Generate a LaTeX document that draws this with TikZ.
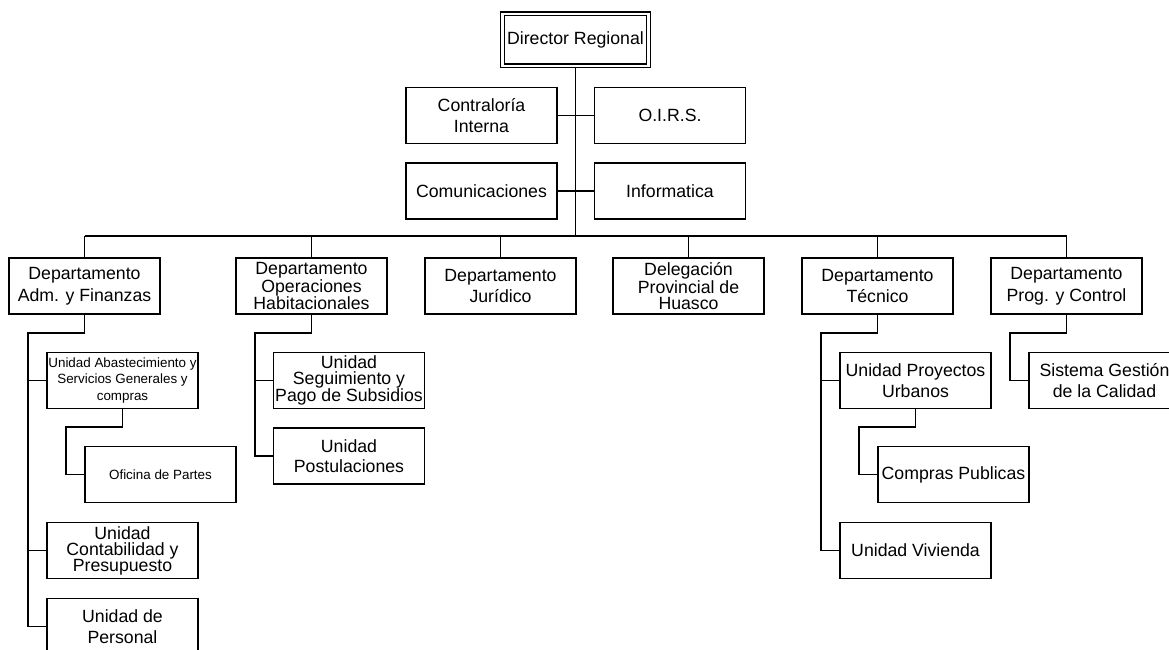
\documentclass[tikz,border=0pt]{standalone}
\usepackage{fontspec}
\setmainfont{Liberation Sans}
\usetikzlibrary{calc}

\begin{document}
\begin{tikzpicture}[x=1pt, y=-1pt, line width=1.7pt,
        box/.style={draw, minimum width=151, minimum height=56, inner sep=0, align=center, font=\fontsize{17.7}{21.5}\selectfont},
        tight/.style={box, font=\fontsize{17.7}{16}\selectfont},
        small/.style={box, font=\fontsize{13.4}{16.5}\selectfont}]
        \useasboundingbox (0, 0) rectangle (1169, 650);
        \fill[white] (0, 0) rectangle (1169, 650);
        \node[box, double, line width=1.4pt, double distance=2.2pt, minimum width=146, minimum height=52] (dir) at (575.5, 40) {Director Regional};
        \node[box] (contra) at (481.5, 115.5) {Contraloría\\Interna};
        \node[box] (oirs) at (670, 115.5) {O.I.R.S.};
        \node[box] (comu) at (481.5, 191) {Comunicaciones};
        \node[box] (info) at (670, 191) {Informatica};
        \coordinate (bus) at (575.5, 236);
        \node[box] (dadm) at (84.5, 286) {Departamento\\Adm. y Finanzas};
        \node[tight] (doper) at (311.5, 286) {Departamento\\Operaciones\\Habitacionales};
        \node[box] (djur) at (500.5, 286) {Departamento\\Jurídico};
        \node[tight] (dhua) at (688.5, 286) {Delegación\\Provincial de\\Huasco};
        \node[box] (dtec) at (877.5, 286) {Departamento\\Técnico};
        \node[box] (dprog) at (1066.5, 286) {Departamento\\Prog. y Control};
        \node[small] (uabas) at (122.5, 380.5) {Unidad Abastecimiento y\\Servicios Generales y\\compras};
        \node[small] (opart) at (160.5, 474.5) {Oficina de Partes};
        \node[tight] (ucont) at (122.5, 550.5) {Unidad\\Contabilidad y\\Presupuesto};
        \node[box] (upers) at (122.5, 626.5) {Unidad de\\Personal};
        \node[tight] (useg) at (349, 380.5) {Unidad\\Seguimiento y\\Pago de Subsidios};
        \node[box, font=\fontsize{17.7}{20}\selectfont] (upost) at (349, 456) {Unidad\\Postulaciones};
        \node[box] (uproy) at (915.5, 380.5) {Unidad Proyectos\\Urbanos};
        \node[box] (ucomp) at (953.5, 474.5) {Compras Publicas};
        \node[box] (uviv) at (915.5, 550.5) {Unidad Vivienda};
        \node[box] (ssgc) at (1104.5, 380.5) {Sistema Gestión\\de la Calidad};
        \draw (dir.south) -- (bus);
        \draw (contra.east) -- (oirs.west);
        \draw (comu.east) -- (info.west);
        \draw (dadm.north |- bus) -- (dprog.north |- bus);
        \foreach \d in {dadm, doper, djur, dhua, dtec, dprog}
            \draw (\d.north) -- (\d.north |- bus);
        \coordinate (admrail) at (28, 333);
        \draw (dadm.south) |- (admrail) |- (upers.west);
        \foreach \u in {uabas, ucont}
            \draw (admrail |- \u.west) -- (\u.west);
        \coordinate (abasrail) at (66, 427);
        \draw (uabas.south) |- (abasrail) |- (opart.west);
        \coordinate (operrail) at (255, 333);
        \draw (doper.south) |- (operrail) |- (upost.west);
        \draw (operrail |- useg.west) -- (useg.west);
        \coordinate (tecrail) at (821, 333);
        \draw (dtec.south) |- (tecrail) |- (uviv.west);
        \draw (tecrail |- uproy.west) -- (uproy.west);
        \coordinate (proyrail) at (859, 427);
        \draw (uproy.south) |- (proyrail) |- (ucomp.west);
        \coordinate (prograil) at (1010, 333);
        \draw (dprog.south) |- (prograil) |- (ssgc.west);
    \end{tikzpicture}
\end{document}
